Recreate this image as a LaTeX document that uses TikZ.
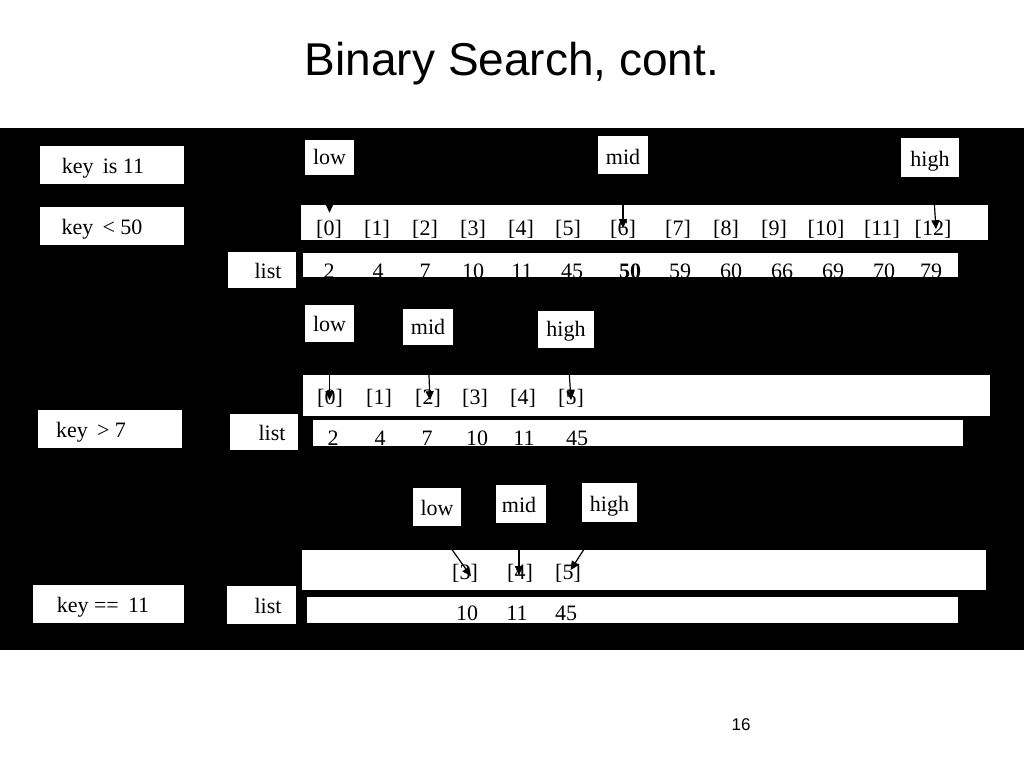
\documentclass[tikz,border=0pt]{standalone}
\usepackage{fontspec}
\setmainfont{Liberation Serif}
\newfontfamily\sansf{Liberation Sans}
\usetikzlibrary{arrows.meta}
\begin{document}
\begin{tikzpicture}[x=1pt,y=-1pt,
  wb/.style={fill=white,draw=none,inner sep=0pt},
  txt/.style={font=\fontsize{22}{24}\selectfont,inner sep=0pt,anchor=base},
  arr/.style={draw=black,line width=1.2pt,-{Triangle[length=9pt,width=8pt]}}]
\useasboundingbox (0,0) rectangle (1024,768);
\fill[white] (0,0) rectangle (1024,768);
\node[font=\sansf\fontsize{46}{50}\selectfont,inner sep=0pt] (title) at (512,64) {Binary Search, cont.};
\node[font=\sansf\fontsize{17}{20}\selectfont,inner sep=0pt] (pg) at (741,725) {16};
\fill[black] (0,128) rectangle (1024,650);
% left key boxes
\newcommand\wbox[6]{\fill[white] (#2,#3) rectangle (#4,#5); \node[txt,anchor=west] (#1) at (#2+8,{(#3+#5)/2+8}) {#6};}
\node[wb,minimum width=144pt,minimum height=38pt] (k1) at (112,165) {};
\node[txt] at (103,173) {key\,  is 11};
\node[wb,minimum width=144pt,minimum height=38pt] (k2) at (112,226) {};
\node[txt] at (102,234) {key\,  < 50};
\node[wb,minimum width=144pt,minimum height=38pt] (k3) at (110,429) {};
\node[txt] at (91,437) {key\,  > 7};
\node[wb,minimum width=151pt,minimum height=38pt] (k4) at (108.5,604) {};
\node[txt] at (103,612) {key ==\,  11};
% list boxes
\node[wb,minimum width=68pt,minimum height=36pt] (l1) at (262,270) {};
\node[txt] at (268,278) {list};
\node[wb,minimum width=68pt,minimum height=36pt] (l2) at (264,432) {};
\node[txt] at (272,440) {list};
\node[wb,minimum width=69pt,minimum height=38pt] (l3) at (261.5,605) {};
\node[txt] at (268,613) {list};
% array rows
\node[wb,minimum width=687pt,minimum height=35pt] (i1) at (644.5,222.5) {};
\node[wb,minimum width=655pt,minimum height=24pt] (v1) at (630.5,265) {};
\node[wb,minimum width=687pt,minimum height=41pt] (i2) at (646.5,395.5) {};
\node[wb,minimum width=650pt,minimum height=26pt] (v2) at (638,433) {};
\node[wb,minimum width=684pt,minimum height=40pt] (i3) at (644,570) {};
\node[wb,minimum width=651pt,minimum height=26pt] (v3) at (632.5,610) {};
\foreach \t/\x in {[0]/329,[1]/377,[2]/425,[3]/473,[4]/521,[5]/568,[6]/623,[7]/678,[8]/726,[9]/774,[10]/826,[11]/882,[12]/933}
  \node[txt] at (\x,235) {\t};
\foreach \t/\x in {2/329,4/378,7/425,10/473,11/522,45/572,59/680,60/731,66/782,69/833,70/884,79/931}
  \node[txt] at (\x,278) {\t};
\node[txt,font=\bfseries\fontsize{22}{24}\selectfont] at (630,278) {50};
\foreach \t/\x in {[0]/330,[1]/379,[2]/428,[3]/475,[4]/523,[5]/571}
  \node[txt] at (\x,404) {\t};
\foreach \t/\x in {2/333,4/380,7/427,10/477,11/524,45/577}
  \node[txt] at (\x,445) {\t};
\foreach \t/\x in {[3]/465,[4]/520,[5]/568}
  \node[txt] at (\x,579) {\t};
\foreach \t/\x in {10/467,11/517,45/566}
  \node[txt] at (\x,620) {\t};
% pointer labels
\node[wb,minimum width=49pt,minimum height=35pt] (lo1) at (329.5,157.5) {};
\node[txt] at (329.5,164) {low};
\node[wb,minimum width=50pt,minimum height=38pt] (mi1) at (623,155) {};
\node[txt] at (623,164) {mid};
\node[wb,minimum width=58pt,minimum height=39pt] (hi1) at (930,157.5) {};
\node[txt] at (930,166) {high};
\node[wb,minimum width=49pt,minimum height=37pt] (lo2) at (329.5,323.5) {};
\node[txt] at (329.5,331) {low};
\node[wb,minimum width=50pt,minimum height=36pt] (mi2) at (428,327) {};
\node[txt] at (428,334) {mid};
\node[wb,minimum width=56pt,minimum height=37pt] (hi2) at (566,329.5) {};
\node[txt] at (566,336) {high};
\node[wb,minimum width=48pt,minimum height=38pt] (lo3) at (437,507) {};
\node[txt] at (437,515) {low};
\node[wb,minimum width=50pt,minimum height=38pt] (mi3) at (521,504) {};
\node[txt] at (519,512) {mid};
\node[wb,minimum width=55pt,minimum height=39pt] (hi3) at (609.5,502.5) {};
\node[txt] at (609.5,511) {high};
% pointers
\draw[arr] ([yshift=-6pt]lo1.south) -- (lo1.south |- i1.north) -- ++(0,8);
\draw[arr] ([yshift=-6pt]mi1.south) -- ++(0,48);
\draw[arr] ([xshift=3pt,yshift=-6pt]hi1.south) -- ++(3,46);
\draw[arr] ([yshift=-6pt]lo2.south) -- ++(0,52);
\draw[arr] ([yshift=-6pt]mi2.south) -- ++(2,49);
\draw[arr] ([xshift=2pt,yshift=-6pt]hi2.south) -- ++(3,46);
\draw[arr] ([xshift=4pt,yshift=-8pt]lo3.south) -- ++(30,42);
\draw[arr] ([xshift=-2pt,yshift=-8pt]mi3.south) -- ++(0,44);
\draw[arr] ([xshift=-12pt,yshift=-6pt]hi3.south) -- ++(-27,42);
\end{tikzpicture}
\end{document}
